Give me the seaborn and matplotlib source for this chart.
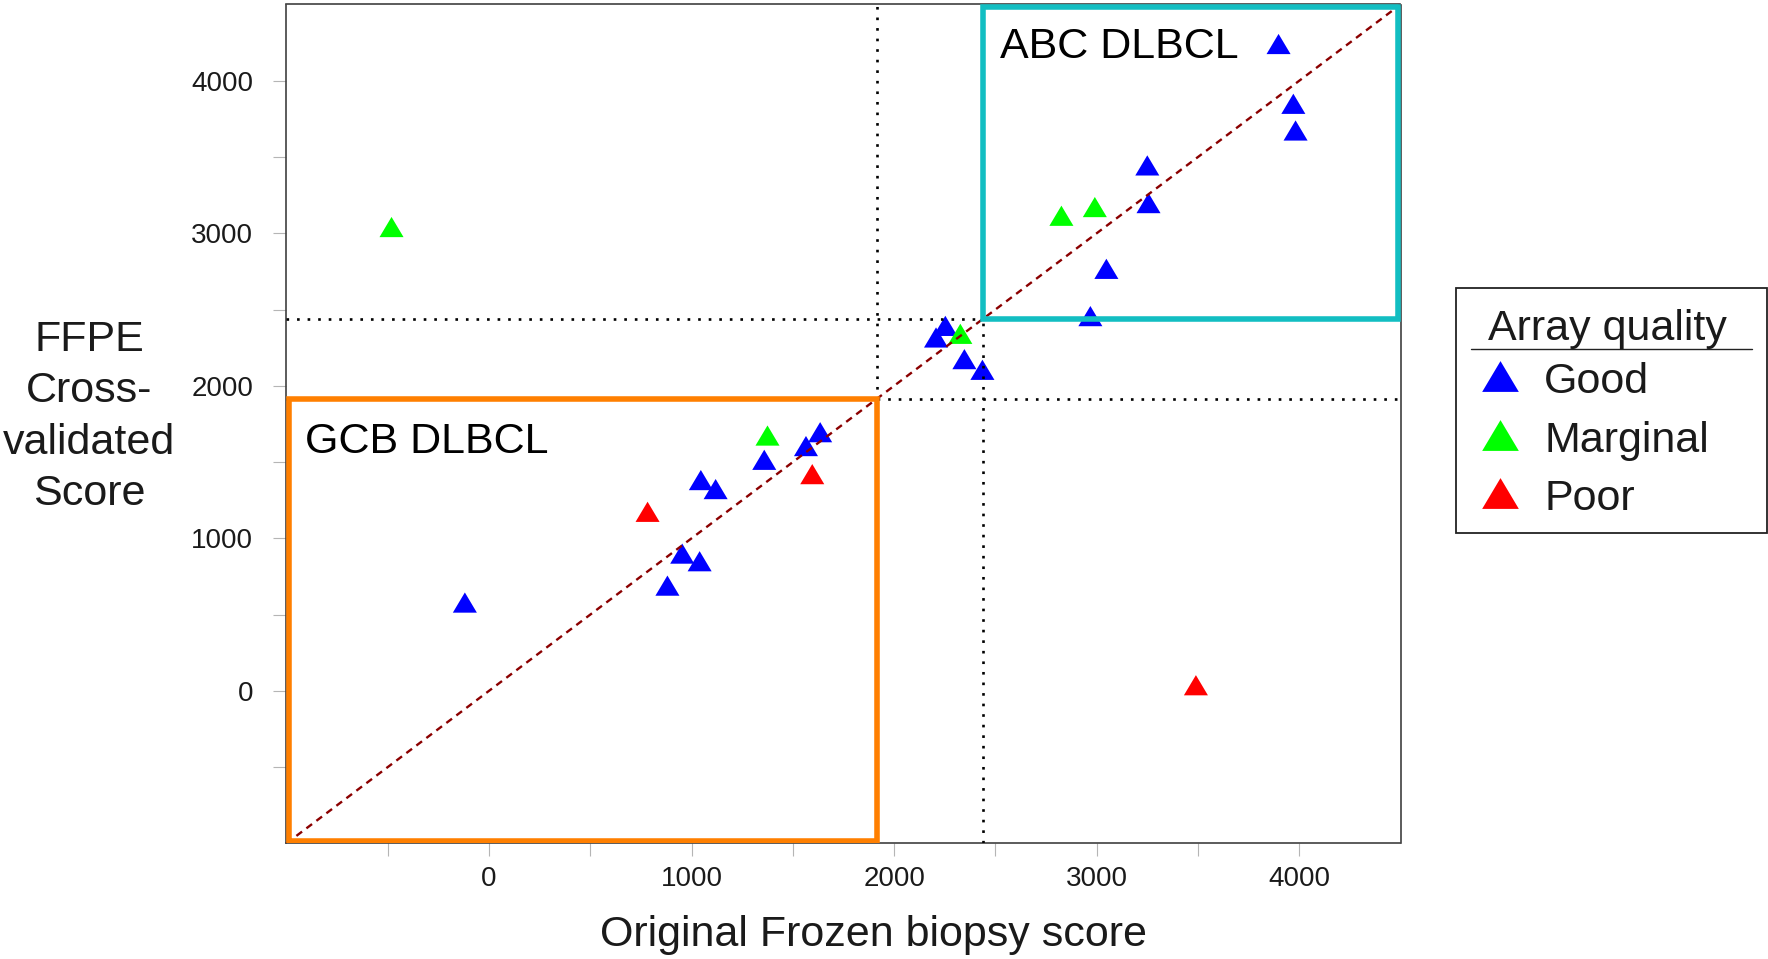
import numpy as np
import pandas as pd
import matplotlib
matplotlib.use("Agg")
import matplotlib.pyplot as plt
from matplotlib.patches import Rectangle
from matplotlib.lines import Line2D
from matplotlib.markers import MarkerStyle
from matplotlib.ticker import FixedLocator
import seaborn as sns

# Per-sample scores: original frozen biopsy (x) vs FFPE cross-validated (y)
good_frozen = [3898, 3971, 3982, 3250, 3256, 3048, 2969, 2253, 2207, 2347,
               2436, 1635, 1565, 1359, 1046, 1119, 954, 1040, 881, -119]
good_ffpe = [4241, 3849, 3674, 3445, 3198, 2767, 2457, 2393, 2317, 2175,
             2105, 1696, 1605, 1515, 1382, 1323, 900, 850, 690, 579]
marginal_frozen = [-481, 2826, 2991, 2327, 1375]
marginal_ffpe = [3041, 3115, 3172, 2341, 1674]
poor_frozen = [783, 1596, 3490]
poor_ffpe = [1174, 1421, 37]

quality_levels = ["Good", "Marginal", "Poor"]
quality_colors = ["#0000FF", "#00FF00", "#FF0000"]

gcb_cutoff = 1915
abc_cutoff = 2440
axis_lo, axis_hi = -1000, 4500
major_ticks = [0, 1000, 2000, 3000, 4000]
minor_ticks = [-500, 500, 1500, 2500, 3500]

df = pd.concat([
    pd.DataFrame({"frozen": good_frozen, "ffpe": good_ffpe, "quality": "Good"}),
    pd.DataFrame({"frozen": marginal_frozen, "ffpe": marginal_ffpe, "quality": "Marginal"}),
    pd.DataFrame({"frozen": poor_frozen, "ffpe": poor_ffpe, "quality": "Poor"}),
], ignore_index=True)

sns.set_theme(style="white")
plt.rcParams["font.family"] = ["Liberation Sans", "DejaVu Sans"]

W, H = 1768, 959
fig = plt.figure(figsize=(W / 100, H / 100), dpi=100)
ax_left, ax_right, ax_top, ax_bottom = 286.4, 1400.5, 4.5, 843.4
ax = fig.add_axes([ax_left / W, 1 - ax_bottom / H,
                   (ax_right - ax_left) / W, (ax_bottom - ax_top) / H])

# filled equilateral-ish triangle, centred on its bounding box
tri = MarkerStyle([(0, 0.42), (-0.5, -0.42), (0.5, -0.42)])
palette = dict(zip(quality_levels, quality_colors))

sns.scatterplot(data=df, x="frozen", y="ffpe", hue="quality",
                hue_order=quality_levels, palette=palette, marker=tri,
                s=300, linewidth=0, edgecolor="none", legend=False,
                ax=ax, zorder=2)

ax.set_xlim(axis_lo, axis_hi)
ax.set_ylim(axis_lo, axis_hi)

# identity line and class cutoffs
ax.plot([axis_lo, axis_hi], [axis_lo, axis_hi], color="#8B0000",
        ls=(0, (3, 2.3)), lw=1.7, zorder=3)
dot = dict(color="black", ls=(0, (1, 3)), lw=1.9, zorder=3)
ax.axvline(gcb_cutoff, **dot)
ax.axvline(abc_cutoff, **dot)
ax.axhline(gcb_cutoff, **dot)
ax.axhline(abc_cutoff, **dot)

# class boxes; outer edges kept inside the frame
box_lw = 4.0
half_px = box_lw * 100 / 72 / 2
ix = half_px / ((ax_right - ax_left) / (axis_hi - axis_lo))
iy = half_px / ((ax_bottom - ax_top) / (axis_hi - axis_lo))
ax.add_patch(Rectangle((axis_lo + ix, axis_lo + iy),
                       gcb_cutoff - axis_lo - ix, gcb_cutoff - axis_lo - iy,
                       fill=False, ec="#FF7F00", lw=box_lw, joinstyle="miter",
                       zorder=4))
ax.add_patch(Rectangle((abc_cutoff, abc_cutoff),
                       axis_hi - abc_cutoff - ix, axis_hi - abc_cutoff - iy,
                       fill=False, ec="#12BEC2", lw=box_lw, joinstyle="miter",
                       zorder=4))

ax.text(-908, 1561, "GCB DLBCL", fontsize=31, va="baseline", color="black", zorder=5)
ax.text(2523, 4147, "ABC DLBCL", fontsize=31, va="baseline", color="black", zorder=5)

# axes styling
ax.set_xticks(major_ticks)
ax.set_yticks(major_ticks)
ax.xaxis.set_minor_locator(FixedLocator(minor_ticks))
ax.yaxis.set_minor_locator(FixedLocator(minor_ticks))
ax.tick_params(which="both", bottom=True, left=True, direction="out",
               length=9.5, width=0.8, color="#b5b5b5",
               labelsize=20, labelcolor="#1a1a1a")
ax.tick_params(axis="x", which="both", pad=7)
ax.tick_params(axis="y", which="both", pad=14.5)
for sp in ax.spines.values():
    sp.set_color("#404040")
    sp.set_linewidth(1.2)

ax.set_xlabel("Original Frozen biopsy score", fontsize=31, color="#1a1a1a")
ax.xaxis.label.set_va("baseline")
ax.xaxis.set_label_coords(0.5274, -0.1223)
ax.set_ylabel("FFPE\nCross-\nvalidated\nScore", rotation=0, fontsize=31,
              color="#1a1a1a", ha="center", va="center", linespacing=1.37)
ax.yaxis.set_label_coords(-0.1772, 0.5085)

# legend panel
def fx(px):
    return px / W


def fy(py):
    return 1 - py / H


fig.add_artist(Rectangle((fx(1455.5), fy(532.5)), fx(1767) - fx(1455.5),
                         fy(287.5) - fy(532.5), transform=fig.transFigure,
                         fill=False, ec="#222222", lw=1.3))
fig.text(fx(1607), fy(340), "Array quality", fontsize=31, ha="center",
         va="baseline", color="#1a1a1a")
fig.add_artist(Line2D([fx(1470.7), fx(1751.7)], [fy(349), fy(349)],
                      transform=fig.transFigure, color="#222222", lw=1.0))
leg_marker_y = [376.3, 434.7, 493.0]
leg_text_y = [393.3, 451.7, 510.0]
for lvl, col, my, ty in zip(quality_levels, quality_colors, leg_marker_y, leg_text_y):
    fig.add_artist(Line2D([fx(1500)], [fy(my)], transform=fig.transFigure,
                          marker=tri, markersize=26.4, color=col, lw=0,
                          markeredgewidth=0))
    fig.text(fx(1544), fy(ty), lvl, fontsize=31, ha="left", va="baseline",
             color="#1a1a1a")

fig.savefig("out.png", dpi=100)
